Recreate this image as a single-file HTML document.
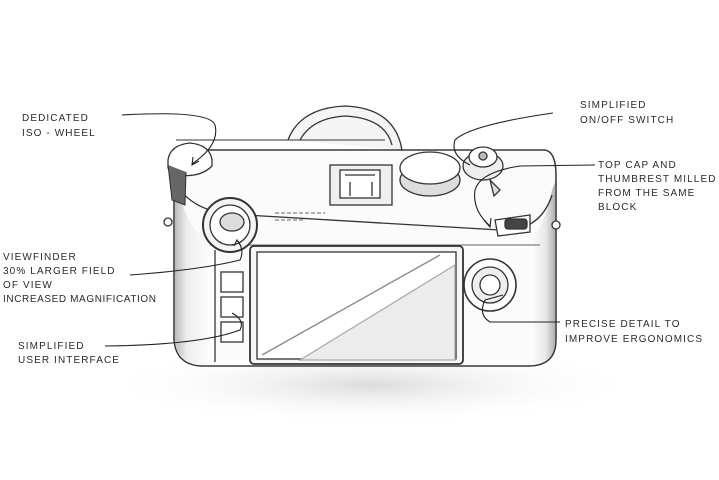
<!DOCTYPE html>
<html><head><meta charset="utf-8"><style>
html,body{margin:0;padding:0;background:#fff;width:719px;height:480px;overflow:hidden}
svg{display:block}
text{font-family:"Liberation Sans",sans-serif;font-size:10px;fill:#2a2a2a;letter-spacing:1.1px}
</style></head><body>
<svg width="719" height="480" viewBox="0 0 719 480" xmlns="http://www.w3.org/2000/svg">
<defs>
<radialGradient id="sh" cx="50%" cy="50%" r="50%"><stop offset="0" stop-color="#ccc" stop-opacity=".7"/><stop offset="1" stop-color="#fff" stop-opacity="0"/></radialGradient>
<linearGradient id="lg" x1="0" x2="1"><stop offset="0" stop-color="#bbb"/><stop offset=".3" stop-color="#eee"/><stop offset="1" stop-color="#fff"/></linearGradient>
<linearGradient id="rg" x1="0" x2="1"><stop offset="0" stop-color="#fff"/><stop offset=".6" stop-color="#e8e8e8"/><stop offset="1" stop-color="#aaa"/></linearGradient>
</defs>
<ellipse cx="370" cy="385" rx="270" ry="40" fill="url(#sh)"/>
<g fill="none" stroke="#333" stroke-width="1.3">
<path d="M288 140 Q300 108 345 106 Q395 108 402 150" fill="#f4f4f4"/>
<path d="M300 140 Q312 118 345 116 Q385 118 392 145"/>
<path d="M180 150 L545 150 Q556 152 556 175 L556 340 Q556 365 530 366 L200 366 Q176 364 174 340 L174 175 Q174 152 180 150 Z" fill="#fbfbfb"/>
<path d="M175 175 L175 340 Q177 362 200 365 L215 365 L215 245 Q190 235 180 195 Z" fill="url(#lg)" stroke="none"/>
<path d="M556 180 L556 340 Q556 364 532 366 L530 240 Q545 225 552 190 Z" fill="url(#rg)" stroke="none"/>
<path d="M180 150 L545 150 Q556 152 556 175 L556 340 Q556 365 530 366 L200 366 Q176 364 174 340 L174 175 Q174 152 180 150 Z"/>
<path d="M176 140 L385 140" stroke-width="1"/>
<path d="M180 190 Q200 215 245 215 L500 230 Q540 232 552 195"/>
<path d="M210 245 L540 245" stroke-width="0.8"/>
<path d="M215 250 L215 362"/>
<circle cx="168" cy="222" r="4" fill="#fff"/><circle cx="556" cy="225" r="4" fill="#fff"/>
<path d="M168 160 Q170 145 190 143 Q210 145 212 160 L212 166 Q200 178 178 175 L168 168 Z" fill="#fff"/>
<path d="M168 165 L172 200 L185 205 L186 172" fill="#666" stroke-width="1"/>
<rect x="330" y="165" width="62" height="40" fill="#f0f0f0"/>
<rect x="340" y="170" width="40" height="28" fill="#fff"/>
<path d="M345 175 h30 M350 182 v14 M372 182 v14"/>
<path d="M275 213 h50 M275 220 h30" stroke-width="0.8" stroke-dasharray="4 2"/>
<ellipse cx="430" cy="180" rx="30" ry="16" fill="#ddd"/>
<ellipse cx="430" cy="168" rx="30" ry="16" fill="#fff"/>
<ellipse cx="483" cy="166" rx="20" ry="14" fill="#eee"/>
<ellipse cx="483" cy="157" rx="14" ry="10" fill="#fff"/>
<circle cx="483" cy="156" r="4" fill="#bbb"/>
<path d="M490 180 L500 190 L494 196 Z" fill="#ddd"/>
<path d="M495 220 L530 215 L530 232 L498 236 Z" fill="#fff"/>
<rect x="505" y="219" width="22" height="10" rx="3" fill="#444"/>
<circle cx="230" cy="225" r="27" fill="#f5f5f5" stroke-width="2"/>
<circle cx="230" cy="225" r="20" fill="#fff"/>
<ellipse cx="232" cy="222" rx="12" ry="9" fill="#ddd"/>
<rect x="250" y="246" width="213" height="118" rx="4" fill="#f6f6f6" stroke-width="1.8"/>
<rect x="257" y="252" width="199" height="107" fill="#fff"/>
<path d="M262 355 L440 255" stroke="#888"/>
<path d="M300 360 L455 265 L455 360 Z" fill="#ececec" stroke="#aaa"/>
<rect x="221" y="272" width="22" height="20" fill="#fff"/>
<rect x="221" y="297" width="22" height="20" fill="#fff"/>
<rect x="221" y="322" width="22" height="20" fill="#fff"/>
<circle cx="490" cy="285" r="26" fill="#fff" stroke-width="1.6"/>
<circle cx="490" cy="285" r="18" fill="#eee"/>
<circle cx="490" cy="285" r="10" fill="#fff"/>
</g>
<g fill="none" stroke="#222" stroke-width="1.1">
<path d="M122 115 Q210 110 215 125 Q220 145 192 164"/>
<path d="M193 157 L192 165 L199 161"/>
<path d="M553 113 Q470 125 455 140 Q450 155 470 165"/>
<path d="M595 165 L520 166 Q480 172 475 190 Q472 210 490 226"/>
<path d="M484 220 L490 227 L491 218"/>
<path d="M130 275 Q200 270 240 260 Q245 250 237 240"/>
<path d="M234 246 L237 240 L241 246"/>
<path d="M105 346 Q200 345 240 330 Q245 320 232 313"/>
<path d="M560 322 L490 322 Q478 315 485 300 L503 295"/>
</g>
<text x="22" y="121">DEDICATED</text>
<text x="22" y="136">ISO - WHEEL</text>
<text x="580" y="108">SIMPLIFIED</text>
<text x="580" y="123">ON/OFF SWITCH</text>
<text x="598" y="168">TOP CAP AND</text>
<text x="598" y="182">THUMBREST MILLED</text>
<text x="598" y="196">FROM THE SAME</text>
<text x="598" y="210">BLOCK</text>
<text x="3" y="260">VIEWFINDER</text>
<text x="3" y="274">30% LARGER FIELD</text>
<text x="3" y="288">OF VIEW</text>
<text x="3" y="302" style="letter-spacing:0.6px">INCREASED MAGNIFICATION</text>
<text x="18" y="349">SIMPLIFIED</text>
<text x="18" y="363">USER INTERFACE</text>
<text x="565" y="327">PRECISE DETAIL TO</text>
<text x="565" y="342">IMPROVE ERGONOMICS</text>
</svg>
</body></html>
